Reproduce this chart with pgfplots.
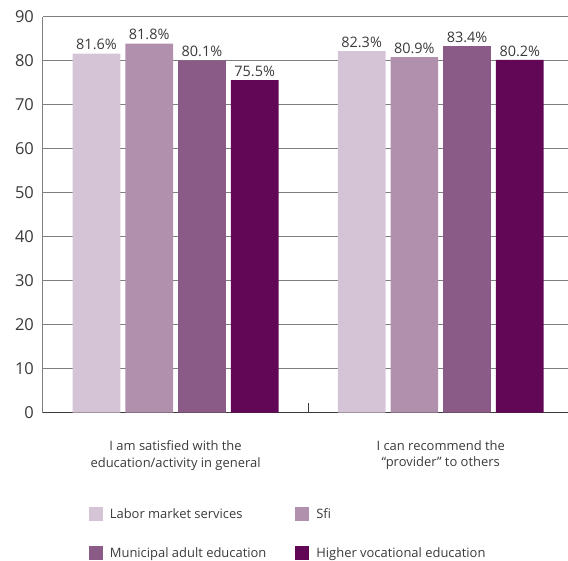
\documentclass[border=0pt]{standalone}
\usepackage{pgfplots}
\pgfplotsset{compat=1.18}
\usepackage{fontspec}
\setmainfont{Open Sans}
\definecolor{c1}{HTML}{D5C4D6}
\definecolor{c2}{HTML}{B190AE}
\definecolor{c3}{HTML}{8A5B87}
\definecolor{c4}{HTML}{610755}
\definecolor{txt}{HTML}{3A3A3A}
\definecolor{gridc}{HTML}{7F7F7F}
\begin{document}
\begin{tikzpicture}
\begin{axis}[
  scale only axis, width=525bp, height=396bp,
  xmin=-0.5, xmax=1.48, ymin=0, ymax=90,
  ybar=5bp, bar width=0.18,
  axis x line*=bottom, axis y line*=left,
  x axis line style={draw=txt, line width=1.2bp},
  y axis line style={draw=gridc, line width=1bp},
  ytick={0,10,...,90},
  ymajorgrids, grid style={draw=gridc, line width=1.2bp},
  major tick length=0pt,
  /pgf/number format/assume math mode=true,
  yticklabel style={font=\fontsize{16.5}{19}\selectfont, text=txt, inner sep=0pt, xshift=-9bp},
  xtick={0,1},
  xticklabels={{I am satisfied with the\\education/activity in general},{I can recommend the\\“provider” to others}},
  xticklabel style={align=center, font=\fontsize{13}{17}\selectfont, text=txt, yshift=-24bp},
  extra x ticks={0.5}, extra x tick labels={},
  extra x tick style={major tick length=10bp, tick align=inside, tick style={draw=txt, line width=1bp}},
  nodes near coords={\pgfplotspointmeta},
  point meta=explicit symbolic,
  every node near coord/.append style={font=\fontsize{14.5}{16}\selectfont, text=txt, yshift=0bp},
  legend columns=2,
  legend cell align=left,
  legend style={draw=none, fill=none, inner sep=0pt, at={(axis description cs:0.087,-0.236)}, anchor=north west,
    font=\fontsize{13}{15}\selectfont, text=txt, row sep=24bp,
    /tikz/every odd column/.append style={column sep=5bp},
    /tikz/every even column/.append style={column sep=27bp}},
  legend image code/.code={\fill[#1] (0bp,-7bp) rectangle (14bp,7bp);},
]
\addplot[fill=c1, draw=none] coordinates {(0,81.6) [81.6\%] (1,82.2) [82.3\%]};
\addlegendentry{Labor market services}
\addplot[fill=c2, draw=none] coordinates {(0,83.9) [81.8\%] (1,80.8) [80.9\%]};
\addlegendentry{Sfi}
\addplot[fill=c3, draw=none] coordinates {(0,80.1) [80.1\%] (1,83.3) [83.4\%]};
\addlegendentry{Municipal adult education}
\addplot[fill=c4, draw=none] coordinates {(0,75.6) [75.5\%] (1,80.2) [80.2\%]};
\addlegendentry{Higher vocational education}
\end{axis}
\pgfresetboundingbox
\path[use as bounding box] (-43bp,-148.3bp) rectangle (525bp,412.7bp);
\end{tikzpicture}
\end{document}
